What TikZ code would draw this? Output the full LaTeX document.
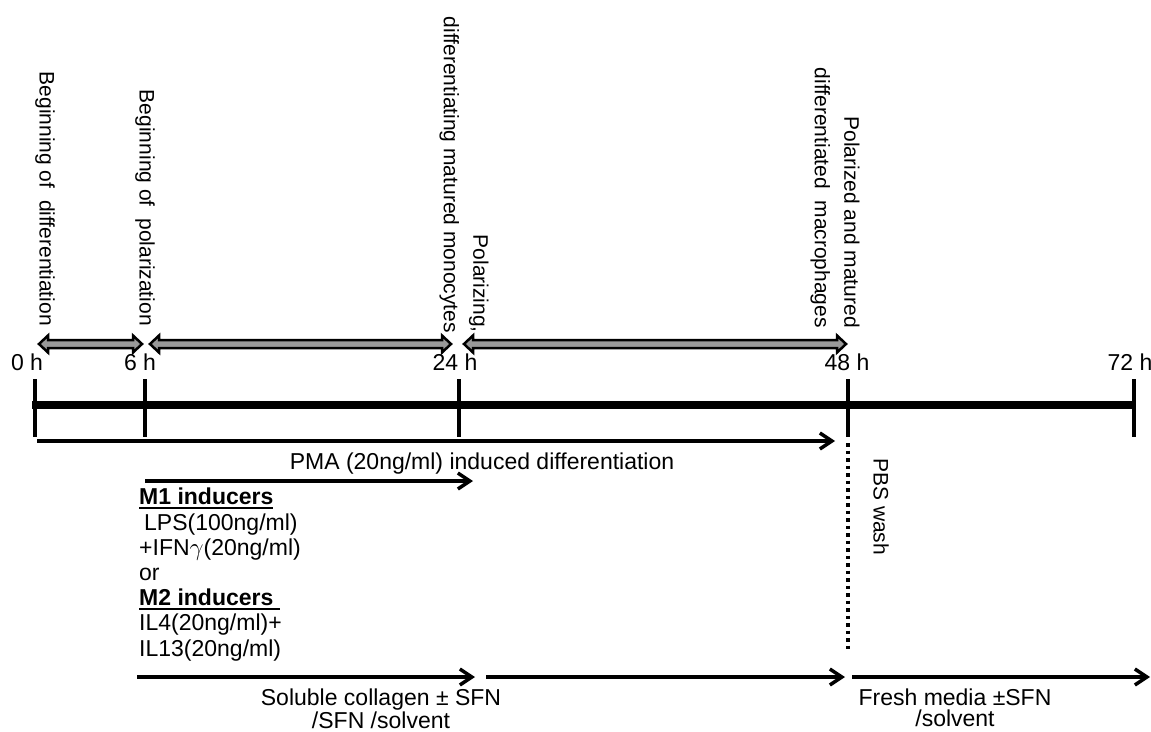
\documentclass[tikz,border=0pt]{standalone}
\usepackage{fontspec}
\setmainfont{Liberation Sans}
\usetikzlibrary{arrows.meta,calc,positioning}
\tikzset{>=Straight Barb}
\tikzset{
  hlbl/.style={font=\fontsize{23}{25.2}\selectfont, inner sep=0pt},
  vlbl/.style={font=\fontsize{21}{29.5}\selectfont, inner sep=0pt,
    rotate=-90, anchor=east, align=right},
  timeaxis/.style={line width=8pt},
  tickmark/.style={line width=4.5pt},
  flow/.style={line width=3.5pt, -{Straight Barb[length=12pt,width=16pt]}},
  wash/.style={line width=3.5pt, dash pattern=on 3.5pt off 4pt},
  % block arrow with two heads between two points
  phase/.style={draw=black, fill=black!40, line width=2.5pt, line join=miter,
    to path={let \p1=(\tikztostart), \p2=(\tikztotarget) in
      (\x1,\y1) -- ++(9pt,8.5pt) -- ++(0pt,-4.5pt) -- (\x2-9pt,\y2+4pt)
      -- ++(0pt,4.5pt) -- (\x2,\y2) -- ++(-9pt,-8.5pt) -- ++(0pt,4.5pt)
      -- (\x1+9pt,\y1-4pt) -- ++(0pt,-4.5pt) -- cycle}}
}
\newcommand{\ulbf}[1]{\vtop{\hbox{\bfseries #1}\kern2pt\hrule height 2pt}}

\begin{document}
\begin{tikzpicture}[x=1pt,y=-1pt]
  \useasboundingbox (0,0) rectangle (1151,731);
  % time axis
  \draw[timeaxis] (32,405) -- (1136,405);
  \foreach \t/\x/\lx in {0/35/27, 6/145/140, 24/459/455, 48/848/847, 72/1134/1130} {
    \draw[tickmark] (\x,379) -- (\x,437);
    \node[hlbl, anchor=base] (h\t) at (\lx,370) {\t\ h};
  }
  % phases
  \coordinate (p1s) at (39,344);  \coordinate (p1e) at (142,344);
  \coordinate (p2s) at (150,344); \coordinate (p2e) at (451,344);
  \coordinate (p3s) at (464,344); \coordinate (p3e) at (846,344);
  \draw[phase] (p1s) to (p1e);
  \draw[phase] (p2s) to (p2e);
  \draw[phase] (p3s) to (p3e);
  \node[vlbl] (bdiff) at (45,326) {Beginning of~ differentiation};
  \node[vlbl] (bpol) at (145,326) {Beginning of~ polarization};
  \node[vlbl] (mono) at (464,333) {Polarizing,\\differentiating matured monocytes};
  \node[vlbl] (macro) at (835,328) {Polarized and matured\\differentiated~ macrophages};
  % treatments
  \coordinate (pmas) at (37,441);  \coordinate (pmae) at (835,441);
  \draw[flow] (pmas) -- (pmae);
  \node[hlbl, anchor=base] (pma) at (482,469) {PMA (20ng/ml) induced differentiation};
  \coordinate (m1s) at (145,481);  \coordinate (m1e) at (473,481);
  \draw[flow] (m1s) -- (m1e);
  \node[hlbl, align=left, anchor=north west] (ind) at (139,488)
    {\ulbf{M1 inducers}\\\hspace*{5pt}LPS(100ng/ml)\\+IFN$\gamma$(20ng/ml)\\or\\
     \ulbf{M2 inducers\ }\\IL4(20ng/ml)+\\IL13(20ng/ml)};
  \coordinate (c1s) at (137,677);  \coordinate (c1e) at (475,677);
  \coordinate (c2s) at (486,677);  \coordinate (c2e) at (845,677);
  \coordinate (c3s) at (852,677);  \coordinate (c3e) at (1150,677);
  \draw[flow] (c1s) -- (c1e);
  \draw[flow] (c2s) -- (c2e);
  \draw[flow] (c3s) -- (c3e);
  \node[hlbl, align=center, anchor=north, font=\fontsize{23}{21}\selectfont] (coll) at (381,689)
    {Soluble collagen ± SFN\\/SFN /solvent};
  \node[hlbl, align=center, anchor=north, font=\fontsize{23}{21}\selectfont] (fresh) at (955,689)
    {Fresh media ±SFN\\/solvent};
  % wash
  \coordinate (ws) at (848,443); \coordinate (we) at (848,650);
  \draw[wash] (ws) -- (we);
  \node[vlbl, anchor=west] (pbs) at (881,458) {PBS wash};
\end{tikzpicture}
\end{document}
